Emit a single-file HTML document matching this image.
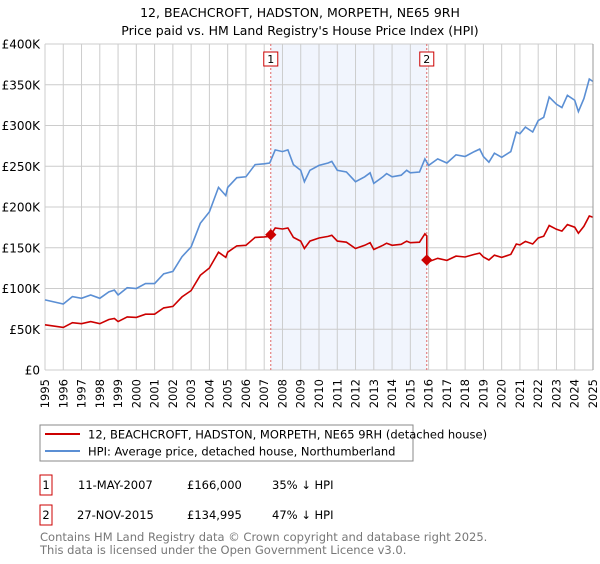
<!DOCTYPE html>
<html><head><meta charset="utf-8"><style>
body{margin:0;background:#fff;font-family:"DejaVu Sans","Liberation Sans",sans-serif;}
svg text{font-family:"DejaVu Sans","Liberation Sans",sans-serif;}
</style></head><body>
<svg id="chart" width="600" height="560" xmlns="http://www.w3.org/2000/svg">
<text x="300" y="17" text-anchor="middle" font-size="12.5" fill="#000">12, BEACHCROFT, HADSTON, MORPETH, NE65 9RH</text>
<text x="300" y="35" text-anchor="middle" font-size="12.5" fill="#000">Price paid vs. HM Land Registry's House Price Index (HPI)</text>
<g id="plot"></g>
<rect x="40" y="425" width="373" height="36" fill="#fff" stroke="#888"/>
<line x1="45" y1="434" x2="80" y2="434" stroke="#cc0000" stroke-width="2"/>
<text x="88" y="438.5" font-size="11.5">12, BEACHCROFT, HADSTON, MORPETH, NE65 9RH (detached house)</text>
<line x1="45" y1="451" x2="80" y2="451" stroke="#5b8fd4" stroke-width="2"/>
<text x="88" y="455.5" font-size="11.5">HPI: Average price, detached house, Northumberland</text>
<g>
<rect x="40" y="475" width="12" height="20" fill="#fff" stroke="#cc0000"/>
<text x="46" y="489" text-anchor="middle" font-size="11.5">1</text>
<text x="78" y="489" font-size="11.5">11-MAY-2007</text>
<text x="187" y="489" font-size="11.5">£166,000</text>
<text x="272" y="489" font-size="11.5">35% ↓ HPI</text>
</g>
<g>
<rect x="40" y="505" width="12" height="20" fill="#fff" stroke="#cc0000"/>
<text x="46" y="519" text-anchor="middle" font-size="11.5">2</text>
<text x="77" y="519" font-size="11.5">27-NOV-2015</text>
<text x="187" y="519" font-size="11.5">£134,995</text>
<text x="272" y="519" font-size="11.5">47% ↓ HPI</text>
</g>
<text x="40" y="541" font-size="11.5" fill="#777">Contains HM Land Registry data © Crown copyright and database right 2025.</text>
<text x="40" y="554" font-size="11.5" fill="#777">This data is licensed under the Open Government Licence v3.0.</text>
</svg>
<script>
const hpiYears=[1995,1996,1996.5,1997,1997.5,1998,1998.5,1998.8,1999,1999.5,2000,2000.5,2001,2001.5,2002,2002.5,2003,2003.5,2004,2004.5,2004.9,2005,2005.5,2006,2006.5,2007,2007.3,2007.6,2008,2008.3,2008.6,2009,2009.2,2009.5,2010,2010.5,2010.7,2011,2011.5,2012,2012.5,2012.8,2013,2013.5,2013.7,2014,2014.5,2014.8,2015,2015.5,2015.8,2016,2016.5,2017,2017.5,2018,2018.5,2018.8,2019,2019.3,2019.6,2020,2020.5,2020.8,2021,2021.3,2021.7,2022,2022.3,2022.6,2023,2023.3,2023.6,2024,2024.2,2024.5,2024.8,2025];
const hpiValues=[86,81,90,88,92,88,96,98,92,101,100,106,106,118,121,139,151,180,194,224,214,224,236,237,252,253,254,270,268,270,252,245,231,245,251,254,256,245,243,231,237,242,229,237,241,237,239,245,242,243,259,251,259,254,264,262,268,271,262,255,266,261,268,292,290,298,292,306,310,335,326,322,337,331,317,333,357,354];
const saleYears=[2007.36,2015.9];
const salePrices=[166,134.995];
const saleLabels=["1","2"];
const yTicks=[0,50,100,150,200,250,300,350,400];
const yTickLabels=["£0","£50K","£100K","£150K","£200K","£250K","£300K","£350K","£400K"];
const xTicks=[];for(let y=1995;y<=2025;y++)xTicks.push(y);

const NS="http://www.w3.org/2000/svg";
const X0=45,X1=593,Y0=370,Y1=44;
const xs=v=>X0+(v-1995)/30*(X1-X0);
const ys=v=>Y0-v/400*(Y0-Y1);
const g=document.getElementById('plot');
function mk(t,a){const e=document.createElementNS(NS,t);for(const k in a)e.setAttribute(k,a[k]);g.appendChild(e);return e;}
function hpiAt(t){for(let i=0;i<hpiYears.length-1;i++){if(t<=hpiYears[i+1]){const f=(t-hpiYears[i])/(hpiYears[i+1]-hpiYears[i]);return hpiValues[i]+f*(hpiValues[i+1]-hpiValues[i]);}}return hpiValues[hpiValues.length-1];}

let sh=mk('rect',{x:xs(saleYears[0]),y:Y1,width:xs(saleYears[1])-xs(saleYears[0]),height:Y0-Y1,fill:'#eef3fc',opacity:'0.8'});


xTicks.forEach(t=>{
 let l=mk('line',{x1:xs(t),x2:xs(t),y1:Y1,y2:Y0,stroke:'#ccc','stroke-width':1});
 
 
 let tx=mk('text',{x:0,y:0,'font-size':'11.5','text-anchor':'end',transform:`translate(${xs(t)+4},${Y0+9}) rotate(-90)`});
 tx.textContent=t;
 
 
});
yTicks.forEach((t,i)=>{
 let l=mk('line',{x1:X0,x2:X1,y1:ys(t),y2:ys(t),stroke:'#ccc','stroke-width':1});
 
 
 let tx=mk('text',{x:X0-5,y:ys(t)+4.5,'font-size':'12','text-anchor':'end'});
 tx.textContent=yTickLabels[i];
 
 
});
saleYears.forEach((s,i)=>{
 let l=mk('line',{x1:xs(s),x2:xs(s),y1:Y1,y2:Y0,stroke:'#e06666','stroke-width':1,'stroke-dasharray':'2,2'});
 
 
 let b=mk('rect',{x:xs(s)-7,y:52,width:14,height:14,fill:'#fff',stroke:'#cc0000'});
 
 
 let tx=mk('text',{x:xs(s),y:63,'font-size':'11','text-anchor':'middle'});
 tx.textContent=saleLabels[i];
 
 
});
// HPI line
let d=hpiYears.map((t,i)=>(i?'L':'M')+xs(t).toFixed(1)+','+ys(hpiValues[i]).toFixed(1)).join('');
let hp=mk('path',{d:d,fill:'none',stroke:'#5b8fd4','stroke-width':1.6});


// property line: sale price indexed by HPI
const r1=salePrices[0]/hpiAt(saleYears[0]),r2=salePrices[1]/hpiAt(saleYears[1]);
let pts=[];
hpiYears.forEach((t,i)=>{if(t<saleYears[1])pts.push([t,hpiValues[i]*r1]);});
pts.push([saleYears[1],hpiAt(saleYears[1])*r1]);
pts.push([saleYears[1],salePrices[1]]);
hpiYears.forEach((t,i)=>{if(t>saleYears[1])pts.push([t,hpiValues[i]*r2]);});
let d2=pts.map((p,i)=>(i?'L':'M')+xs(p[0]).toFixed(1)+','+ys(p[1]).toFixed(1)).join('');
let pp=mk('path',{d:d2,fill:'none',stroke:'#cc0000','stroke-width':1.6});


saleYears.forEach((s,i)=>{
 let c=mk('rect',{x:xs(s)-4,y:ys(salePrices[i])-4,width:8,height:8,fill:'#cc0000',transform:`rotate(45 ${xs(s)} ${ys(salePrices[i])})`});
 
 
});
let ax=mk('line',{x1:X1,x2:X1,y1:Y1,y2:Y0,stroke:'#999','stroke-width':1});


</script>
</body></html>
